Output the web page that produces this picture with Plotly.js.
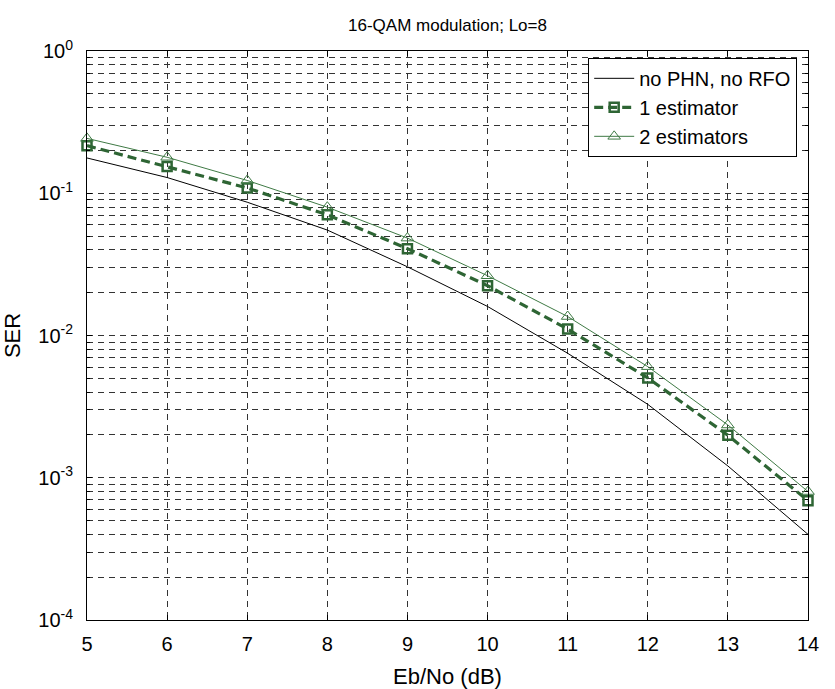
<!DOCTYPE html>
<html>
<head>
<meta charset="utf-8">
<script src="https://cdn.plot.ly/plotly-3.0.1.min.js"></script>
<style>html,body{margin:0;padding:0;background:#fff}</style>
</head>
<body>
<div id="chart" style="width:835px;height:689px"></div>
<script>
var ebno = [5, 6, 7, 8, 9, 10, 11, 12, 13, 14];
var serIdeal = [0.177, 0.129, 0.0865, 0.0551, 0.0304, 0.0160, 0.0075, 0.00328, 0.00121, 0.00040];
var serOne = [0.216, 0.154, 0.109, 0.0705, 0.0408, 0.0224, 0.0111, 0.00503, 0.00199, 0.00069];
var serTwo = [0.243, 0.179, 0.123, 0.0798, 0.0484, 0.0263, 0.0136, 0.00604, 0.00235, 0.00080];
var yTickVals = [1e-4, 1e-3, 1e-2, 1e-1, 1];
var yTickText = ['10<sup>-4</sup>', '10<sup>-3</sup>', '10<sup>-2</sup>', '10<sup>-1</sup>', '10<sup>0</sup>'];
var seriesNames = ['no PHN, no RFO', '1 estimator', '2 estimators'];

var minorVals = [];
for (var e = -4; e < 0; e++) {
  for (var m = 2; m <= 9; m++) minorVals.push(m * Math.pow(10, e));
}

var font = 'Liberation Sans, Arial, sans-serif';
var traces = [
  {x: ebno, y: serIdeal, name: seriesNames[0], mode: 'lines', type: 'scatter', cliponaxis: false,
   line: {color: '#000000', width: 1}},
  {x: ebno, y: serOne, name: seriesNames[1], mode: 'lines+markers', type: 'scatter', cliponaxis: false,
   line: {color: '#2e6534', width: 3.2, dash: '9px,5px'},
   marker: {symbol: 'square-open', size: 9, color: '#2e6534', line: {width: 2.5, color: '#2e6534'}}},
  {x: ebno, y: serTwo, name: seriesNames[2], mode: 'lines+markers', type: 'scatter', cliponaxis: false,
   line: {color: '#3f7a45', width: 1},
   marker: {symbol: 'triangle-up-open', size: 11, color: '#3f7a45', line: {width: 1, color: '#3f7a45'}}}
];

var gridDash = '6px,5px';
var layout = {
  width: 835, height: 689,
  paper_bgcolor: '#ffffff', plot_bgcolor: '#ffffff',
  margin: {l: 87, r: 27, t: 51, b: 69},
  font: {family: font, size: 18, color: '#000'},
  showlegend: true,
  title: {text: '16-QAM modulation; Lo=8', font: {family: font, size: 17, color: '#000'},
          x: 0.5, xref: 'paper', xanchor: 'center', y: 1, yref: 'paper', yanchor: 'bottom', pad: {b: 20}},
  xaxis: {
    range: [5, 14], dtick: 1, tick0: 5,
    showline: true, linecolor: '#000', linewidth: 1, mirror: 'ticks',
    ticks: 'inside', ticklen: 5, tickcolor: '#000',
    showgrid: true, gridcolor: '#333', griddash: gridDash, gridwidth: 1,
    zeroline: false, automargin: false,
    ticklabelstandoff: 6,
    tickfont: {family: font, size: 20},
    title: {text: 'Eb/No (dB)', font: {family: font, size: 22}, standoff: 14}
  },
  yaxis: {
    type: 'log', range: [-4, 0],
    tickmode: 'array', tickvals: yTickVals, ticktext: yTickText,
    showline: true, linecolor: '#000', linewidth: 1, mirror: 'ticks',
    ticks: 'inside', ticklen: 5, tickcolor: '#000',
    showgrid: true, gridcolor: '#333', griddash: gridDash, gridwidth: 1,
    minor: {tickmode: 'array', tickvals: minorVals, ticks: 'inside', ticklen: 3, tickcolor: '#000',
            showgrid: true, gridcolor: '#333', griddash: gridDash, gridwidth: 1},
    zeroline: false, automargin: false,
    ticklabelstandoff: 9,
    tickfont: {family: font, size: 20},
    title: {text: 'SER', font: {family: font, size: 22}, standoff: 12}
  },
  legend: {
    x: 0.985, xanchor: 'right', y: 0.988, yanchor: 'top',
    bgcolor: '#ffffff', bordercolor: '#000', borderwidth: 1,
    font: {family: font, size: 20, color: '#000'},
    tracegroupgap: 0, itemwidth: 40
  }
};

Plotly.newPlot('chart', traces, layout, {displayModeBar: false, staticPlot: true});
</script>
</body>
</html>
